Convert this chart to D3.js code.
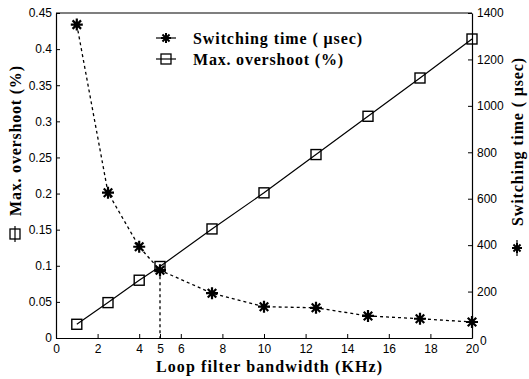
<!DOCTYPE html>
<html>
<head>
<meta charset="utf-8">
<script src="https://cdn.jsdelivr.net/npm/d3@7"></script>
<style>
html,body{margin:0;padding:0;background:#fff;}
svg{display:block;}
.tick text{font-family:"Liberation Sans",Arial,sans-serif;font-size:12px;fill:#000;}
.title{font-family:"Liberation Serif","Times New Roman",serif;font-weight:bold;font-size:16px;fill:#000;}
</style>
</head>
<body>
<svg id="chart" width="529" height="379"></svg>
<script>
// Data
const bandwidth = [1, 2.5, 4, 5, 7.5, 10, 12.5, 15, 17.5, 20];          // KHz
const overshoot = [0.019, 0.049, 0.080, 0.099, 0.151, 0.201, 0.254, 0.307, 0.360, 0.414]; // %
const switching = [1350, 626, 393, 292, 193, 135, 130, 95, 83, 69];      // usec
const xTicks = [0, 2, 4, 5, 6, 8, 10, 12, 14, 16, 18, 20];
const leftTicks = [0, 0.05, 0.1, 0.15, 0.2, 0.25, 0.3, 0.35, 0.4, 0.45];
const rightTicks = [0, 200, 400, 600, 800, 1000, 1200, 1400];
const highlightX = 5;

const svg = d3.select("#chart");
const L = 56, R = 472, T = 13, B = 338;
const x = d3.scaleLinear().domain([0, 20]).range([L, R]);
const yL = d3.scaleLinear().domain([0, 0.45]).range([B, T]);
const yR = d3.scaleLinear().domain([0, 1400]).range([B, T]);

// box top line
svg.append("line").attr("x1", L).attr("x2", R).attr("y1", T).attr("y2", T)
  .attr("stroke", "#000").attr("stroke-width", 1.2);

const fmtL = d => d === 0 ? "0" : String(d);
const gx = svg.append("g").attr("transform", `translate(0,${B})`)
  .call(d3.axisBottom(x).tickValues(xTicks).tickSizeInner(-4).tickSizeOuter(0).tickPadding(6).tickFormat(d3.format("d")));
const gl = svg.append("g").attr("transform", `translate(${L},0)`)
  .call(d3.axisLeft(yL).tickValues(leftTicks).tickSizeInner(-4).tickSizeOuter(0).tickPadding(4).tickFormat(fmtL));
const gr = svg.append("g").attr("transform", `translate(${R},0)`)
  .call(d3.axisRight(yR).tickValues(rightTicks).tickSizeInner(-4).tickSizeOuter(0).tickPadding(5).tickFormat(d3.format("d")));
[gx, gl, gr].forEach(g => {
  g.select(".domain").attr("stroke", "#000").attr("stroke-width", 1.2);
  g.selectAll(".tick line").attr("stroke", "#000");
});
gx.selectAll(".tick text").attr("dy", "0.75em");
gr.selectAll(".tick text").filter(d => d === 0).attr("dx", 3).attr("dy", "0.5em");

// star marker path (plus + x)
function starPath(s) {
  const a = s * 0.7071;
  return `M${-s},0L${s},0M0,${-s}L0,${s}M${-a},${-a}L${a},${a}M${-a},${a}L${a},${-a}`;
}
const sqSize = 5;

// vertical dashed line at x=5 down from switching point
const i5 = bandwidth.indexOf(highlightX);
svg.append("line")
  .attr("x1", x(highlightX)).attr("x2", x(highlightX))
  .attr("y1", yR(switching[i5])).attr("y2", B)
  .attr("stroke", "#000").attr("stroke-width", 1.3).attr("stroke-dasharray", "3,3");

// Switching time (dashed)
const lineR = d3.line().x((d, i) => x(bandwidth[i])).y(d => yR(d));
svg.append("path").datum(switching).attr("d", lineR)
  .attr("fill", "none").attr("stroke", "#000").attr("stroke-width", 1.3).attr("stroke-dasharray", "3,3");
svg.selectAll(".star").data(switching).enter().append("path")
  .attr("transform", (d, i) => `translate(${x(bandwidth[i])},${yR(d)})`)
  .attr("d", starPath(6)).attr("stroke", "#000").attr("stroke-width", 2.2).attr("fill", "none");

// Overshoot (solid)
const lineL = d3.line().x((d, i) => x(bandwidth[i])).y(d => yL(d));
svg.append("path").datum(overshoot).attr("d", lineL)
  .attr("fill", "none").attr("stroke", "#000").attr("stroke-width", 1.2);
svg.selectAll(".sq").data(overshoot).enter().append("rect")
  .attr("x", (d, i) => x(bandwidth[i]) - sqSize).attr("y", d => yL(d) - sqSize)
  .attr("width", sqSize * 2).attr("height", sqSize * 2)
  .attr("fill", "none").attr("stroke", "#000").attr("stroke-width", 1.4);

// Legend
const legend = [
  {label: "Switching time ( \u03bcsec)", type: "star", w: 169},
  {label: "Max. overshoot (%)", type: "sq", w: 150}
];
legend.forEach((e, k) => {
  const yy = 38 + k * 21;
  svg.append("line").attr("x1", 156).attr("x2", 176).attr("y1", yy).attr("y2", yy)
    .attr("stroke", "#000").attr("stroke-width", 1.2);
  if (e.type === "star") {
    svg.append("path").attr("transform", `translate(166,${yy})`).attr("d", starPath(5))
      .attr("stroke", "#000").attr("stroke-width", 2).attr("fill", "none");
  } else {
    svg.append("rect").attr("x", 161).attr("y", yy - 5).attr("width", 10).attr("height", 10)
      .attr("fill", "none").attr("stroke", "#000").attr("stroke-width", 1.3);
  }
  svg.append("text").attr("class", "title").attr("x", 193).attr("y", yy).attr("dy", "0.35em")
    .attr("textLength", e.w).attr("lengthAdjust", "spacing").text(e.label);
});

// X axis title
svg.append("text").attr("class", "title").attr("x", 156).attr("y", 366).attr("dy", "0.35em")
  .attr("textLength", 226).attr("lengthAdjust", "spacing").text("Loop filter bandwidth (KHz)");

// Left axis title (with square marker)
const gLT = svg.append("g").attr("transform", "translate(15,234) rotate(-90)");
gLT.append("line").attr("x1", -8).attr("x2", 8).attr("y1", 0).attr("y2", 0).attr("stroke", "#000").attr("stroke-width", 1.2);
gLT.append("rect").attr("x", -5).attr("y", -5).attr("width", 10).attr("height", 10).attr("fill", "none").attr("stroke", "#000").attr("stroke-width", 1.3);
gLT.append("text").attr("class", "title").attr("x", 18).attr("y", 0).attr("dy", "0.35em")
  .attr("textLength", 150).attr("lengthAdjust", "spacing").text("Max. overshoot (%)");

// Right axis title (with star marker)
const gRT = svg.append("g").attr("transform", "translate(517,248) rotate(-90)");
gRT.append("line").attr("x1", -8).attr("x2", 8).attr("y1", 0).attr("y2", 0).attr("stroke", "#000").attr("stroke-width", 1.2);
gRT.append("path").attr("d", starPath(5)).attr("stroke", "#000").attr("stroke-width", 2).attr("fill", "none");
gRT.append("text").attr("class", "title").attr("x", 22).attr("y", 0).attr("dy", "0.35em")
  .attr("textLength", 168).attr("lengthAdjust", "spacing").text("Switching time ( \u03bcsec)");
</script>
</body>
</html>
